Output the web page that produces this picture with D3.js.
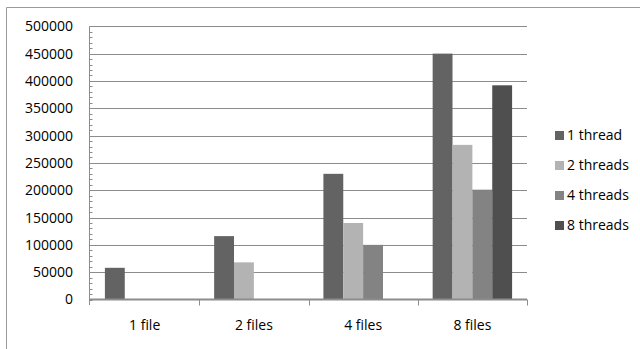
<!DOCTYPE html>
<html>
<head>
<meta charset="utf-8">
<script src="https://cdn.jsdelivr.net/npm/d3@7"></script>
<style>
  html, body { margin: 0; padding: 0; background: #fff; }
  svg { display: block; }
  text { font-family: "Open Sans", sans-serif; fill: #000; }
</style>
</head>
<body>
<svg id="chart" width="640" height="349"></svg>
<script>
// Workload sizes along the x axis
const categories = ["1 file", "2 files", "4 files", "8 files"];
// Thread-count series
const seriesNames = ["1 thread", "2 threads", "4 threads", "8 threads"];
// Values per series, one entry per category (null = no bar)
const thread1 = [58000, 116000, 230000, 450000];
const thread2 = [null, 68000, 140000, 283000];
const thread4 = [null, null, 100000, 201000];
const thread8 = [null, null, null, 392000];
const yTicks = [0, 50000, 100000, 150000, 200000, 250000, 300000, 350000, 400000, 450000, 500000];
const seriesColors = ["#636363", "#b3b3b3", "#838383", "#4f4f4f"];

const seriesValues = [thread1, thread2, thread4, thread8];
const FONT = "'Open Sans', sans-serif";

const svg = d3.select("#chart");
const plot = { left: 90, right: 527, top: 26.3, bottom: 299.5 };

// Chart frame
svg.append("path")
  .attr("d", "M6.5,349 V7.5 H640")
  .attr("fill", "none")
  .attr("stroke", "#9a9a9a")
  .attr("stroke-width", 1);

const x = d3.scaleBand().domain(categories).range([plot.left, plot.right]).padding(0);
// Four bars per category with a 150% gap: bar width = band / (4 + 1.5)
const barW = x.bandwidth() / 5.5;
const y = d3.scaleLinear().domain([0, 500000]).range([plot.bottom, plot.top]);

// Horizontal gridlines
svg.append("g")
  .selectAll("line")
  .data(yTicks.filter(t => t > 0))
  .join("line")
  .attr("x1", plot.left)
  .attr("x2", plot.right)
  .attr("y1", d => Math.round(y(d)) + 0.5)
  .attr("y2", d => Math.round(y(d)) + 0.5)
  .attr("stroke", "#8c8c8c")
  .attr("stroke-width", 1);

// Bars
const groups = svg.append("g")
  .selectAll("g")
  .data(seriesNames.map((name, i) => ({ name, i, values: seriesValues[i] })))
  .join("g")
  .attr("fill", d => seriesColors[d.i]);

groups.selectAll("rect")
  .data(d => d.values.map((v, j) => ({ v, cat: categories[j], i: d.i })).filter(e => e.v != null))
  .join("rect")
  .attr("x", d => x(d.cat) + barW * 0.75 + d.i * barW)
  .attr("width", barW)
  .attr("y", d => y(d.v))
  .attr("height", d => y(0) - y(d.v));

// Y axis line with minor ticks every 10000
const yAxisG = svg.append("g").attr("transform", `translate(${plot.left - 0.5},0)`);
yAxisG.append("line")
  .attr("x1", 0).attr("x2", 0)
  .attr("y1", plot.top).attr("y2", plot.bottom + 5.5)
  .attr("stroke", "#8c8c8c");
const minor = d3.range(0, 500001, 10000);
yAxisG.selectAll("line.minor")
  .data(minor)
  .join("line")
  .attr("class", "minor")
  .attr("x1", 0).attr("x2", 3)
  .attr("y1", d => Math.round(y(d)) + 0.5)
  .attr("y2", d => Math.round(y(d)) + 0.5)
  .attr("stroke", "#8c8c8c");

const yAxis = d3.axisLeft(y).tickValues(yTicks).tickSize(0).tickPadding(17).tickFormat(d3.format("d"));
const yLabels = svg.append("g").attr("transform", `translate(${plot.left},0)`).call(yAxis);
yLabels.select(".domain").remove();
yLabels.selectAll("text").attr("font-size", 14).attr("font-family", FONT).attr("fill", "#000");

// X axis
const xAxisG = svg.append("g").attr("transform", `translate(0,${Math.round(plot.bottom) - 0.5})`);
xAxisG.append("line")
  .attr("x1", plot.left - 1).attr("x2", plot.right)
  .attr("y1", 0).attr("y2", 0)
  .attr("stroke", "#8c8c8c").attr("stroke-width", 2);
xAxisG.selectAll("line.tick")
  .data(categories.slice(1).map(c => x(c)).concat([plot.right]))
  .join("line")
  .attr("class", "tick")
  .attr("x1", d => Math.round(d) + 0.5).attr("x2", d => Math.round(d) + 0.5)
  .attr("y1", 0).attr("y2", 6)
  .attr("stroke", "#8c8c8c");
const xAxis = d3.axisBottom(x).tickSize(0).tickPadding(21);
const xLabels = svg.append("g").attr("transform", `translate(0,${plot.bottom})`).call(xAxis);
xLabels.select(".domain").remove();
xLabels.selectAll("text").attr("font-size", 14).attr("font-family", FONT).attr("fill", "#000");

// Legend
const legend = svg.append("g").attr("transform", "translate(555,135)");
const items = legend.selectAll("g")
  .data(seriesNames)
  .join("g")
  .attr("transform", (d, i) => `translate(0,${i * 30})`);
items.append("rect")
  .attr("x", 0).attr("y", -4)
  .attr("width", 9).attr("height", 9)
  .attr("fill", (d, i) => seriesColors[i]);
items.append("text")
  .attr("x", 12).attr("y", 0)
  .attr("dy", "0.35em")
  .attr("font-size", 14)
  .text(d => d);
</script>
</body>
</html>
